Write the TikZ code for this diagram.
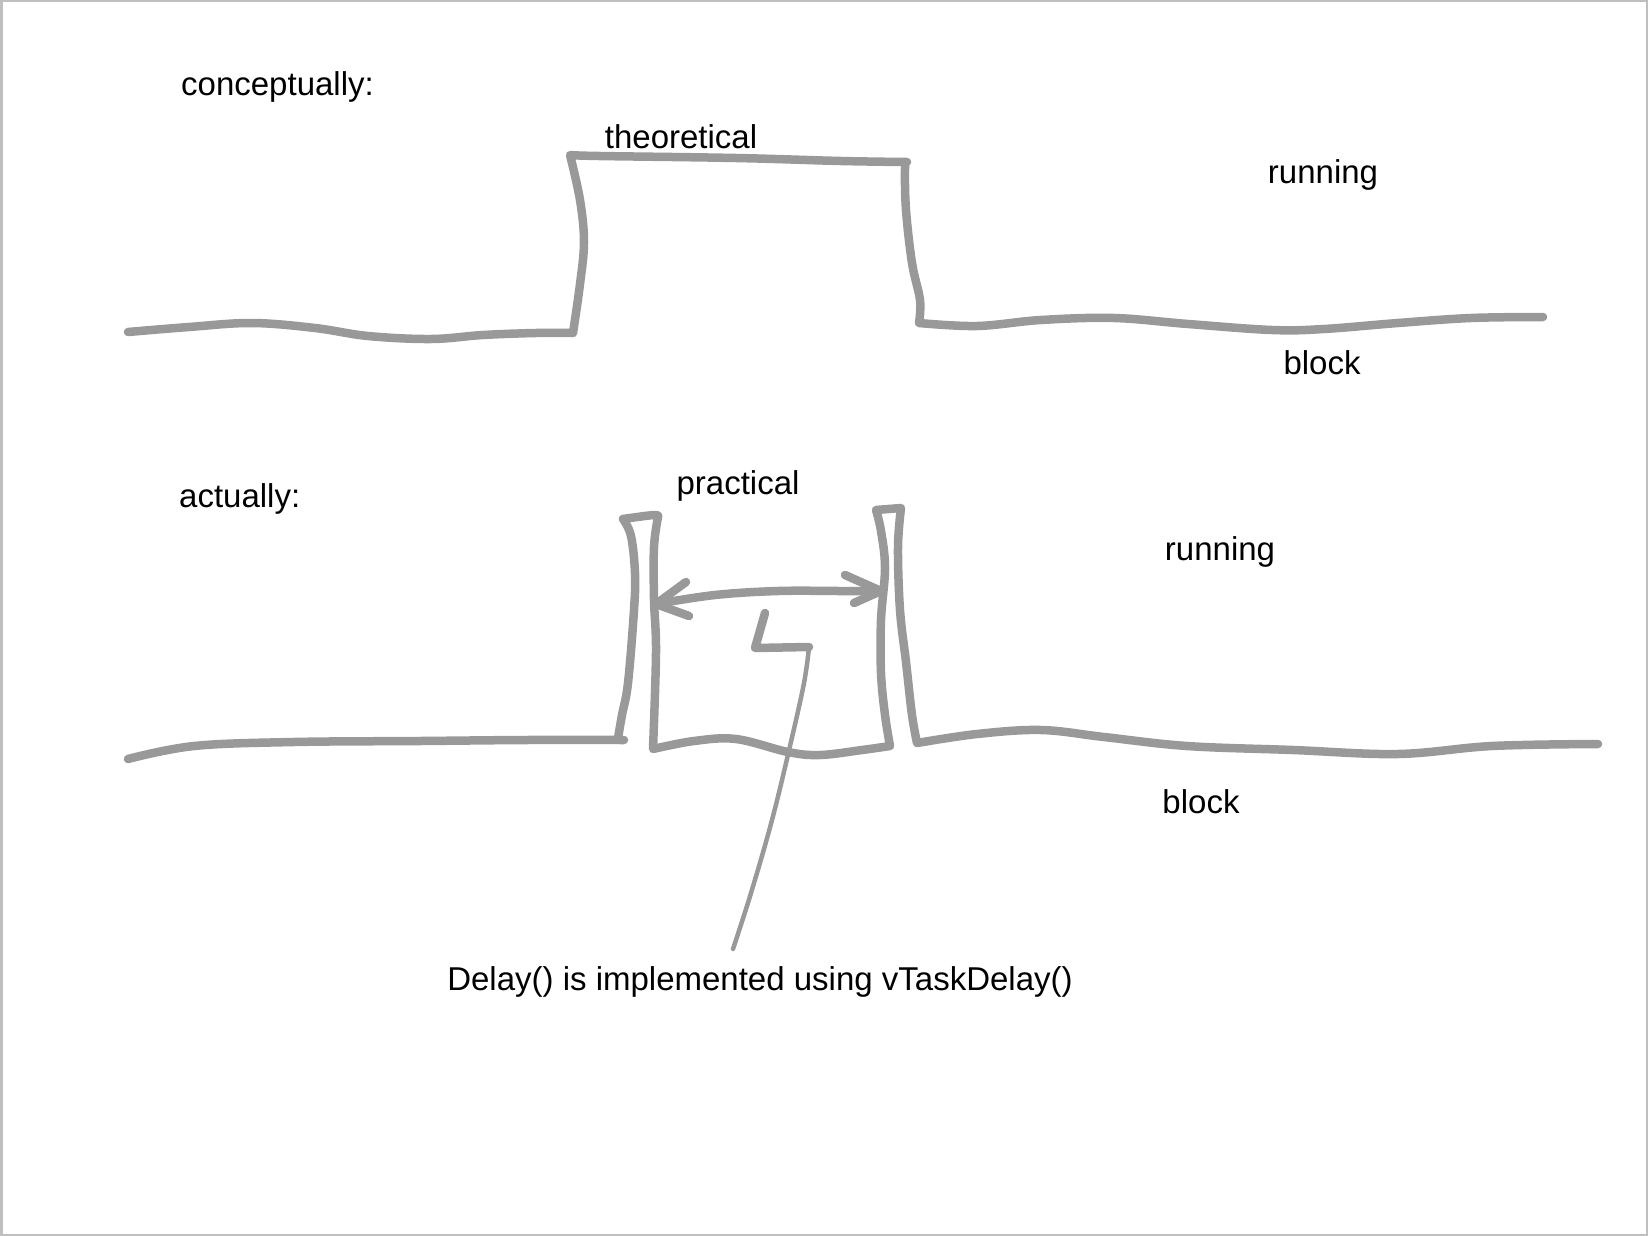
\documentclass[tikz,border=0pt]{standalone}
\usepackage{fontspec}
\setmainfont{Liberation Sans}
\begin{document}
\begin{tikzpicture}[x=1pt,y=-1pt,
  pen/.style={draw=black!40,line width=8.5pt,line cap=round,line join=round},
  thinpen/.style={draw=black!40,line width=4.5pt,line cap=round,line join=round},
  lbl/.style={inner sep=0pt,font=\fontsize{33}{40}\selectfont,text=black}]
\useasboundingbox (0,0) rectangle (1648,1236);
\draw[black!25,line width=2.5pt] (1.25,1.25) rectangle (1646.75,1234.75);
% top waveform
\draw[pen] plot[smooth,tension=0.6] coordinates {(128,332) (189,327) (252,323) (315,328) (368,336) (431,339) (483,335) (536,333) (573,333)}
  -- plot[smooth,tension=0.6] coordinates {(573,333) (580,284) (584,242) (580,200) (570,155)}
  -- plot[smooth,tension=0.6] coordinates {(570,155) (599,156) (736,158) (841,161) (907,162)}
  -- plot[smooth,tension=0.6] coordinates {(907,162) (905,168) (906,210) (912,263) (920,300) (919,323)}
  -- plot[smooth,tension=0.6] coordinates {(919,323) (977,326) (1041,320) (1114,318) (1188,324) (1272,330) (1324,329) (1398,323) (1471,318) (1543,317)};
% bottom waveform
\draw[pen] plot[smooth,tension=0.6] coordinates {(128,759) (194,746) (294,742) (420,741) (526,740) (624,740)};
\draw[pen] plot[smooth,tension=0.6] coordinates {(618,738) (622,715) (628,683) (634,610) (635,573) (631,536) (623,519)}
  -- plot[smooth,tension=0.6] coordinates {(623,519) (654,515) (658,517)}
  -- plot[smooth,tension=0.6] coordinates {(658,517) (654,547) (654,599) (656,652) (653,749)}
  -- plot[smooth,tension=0.6] coordinates {(653,749) (694,741) (736,739) (788,752) (820,755) (862,750) (890,746)}
  -- plot[smooth,tension=0.6] coordinates {(890,746) (885,715) (881,673) (881,620) (885,568) (881,531) (876,510)}
  -- plot[smooth,tension=0.6] coordinates {(876,510) (901,508)}
  -- plot[smooth,tension=0.6] coordinates {(901,508) (898,547) (900,610) (906,662) (912,715) (917,743)}
  -- plot[smooth,tension=0.6] coordinates {(917,743) (977,734) (1041,730) (1104,737) (1187,746) (1293,750) (1398,754) (1492,746) (1598,744)};
% double arrow
\draw[pen] plot[smooth,tension=0.6] coordinates {(656,604) (715,595) (778,591) (841,591) (881,591)};
\draw[pen] (686,582) -- (656,604) -- (689,616);
\draw[pen] (845,575) -- (881,591) -- (854,603);
% pointer
\coordinate (ptrEnd) at (733,949);
\draw[pen] (765,613) -- (755,648) -- (809,647);
\draw[thinpen] plot[smooth,tension=0.6] coordinates {(809,647) (804,683) (790,746) (772,820) (751,893) (733,949)};
% labels
\node[lbl,anchor=west] (concept) at (181,87) {conceptually:};
\node[lbl] (theo) at (681,137) {theoretical};
\node[lbl] (run1) at (1323,175) {running};
\node[lbl] (blk1) at (1322,363) {block};
\node[lbl,anchor=west] (actual) at (179,499) {actually:};
\node[lbl] (prac) at (738,486) {practical};
\node[lbl] (run2) at (1220,552) {running};
\node[lbl] (blk2) at (1201,802) {block};
\node[lbl] (delay) at (760,982) {Delay() is implemented using vTaskDelay()};
\end{tikzpicture}
\end{document}
